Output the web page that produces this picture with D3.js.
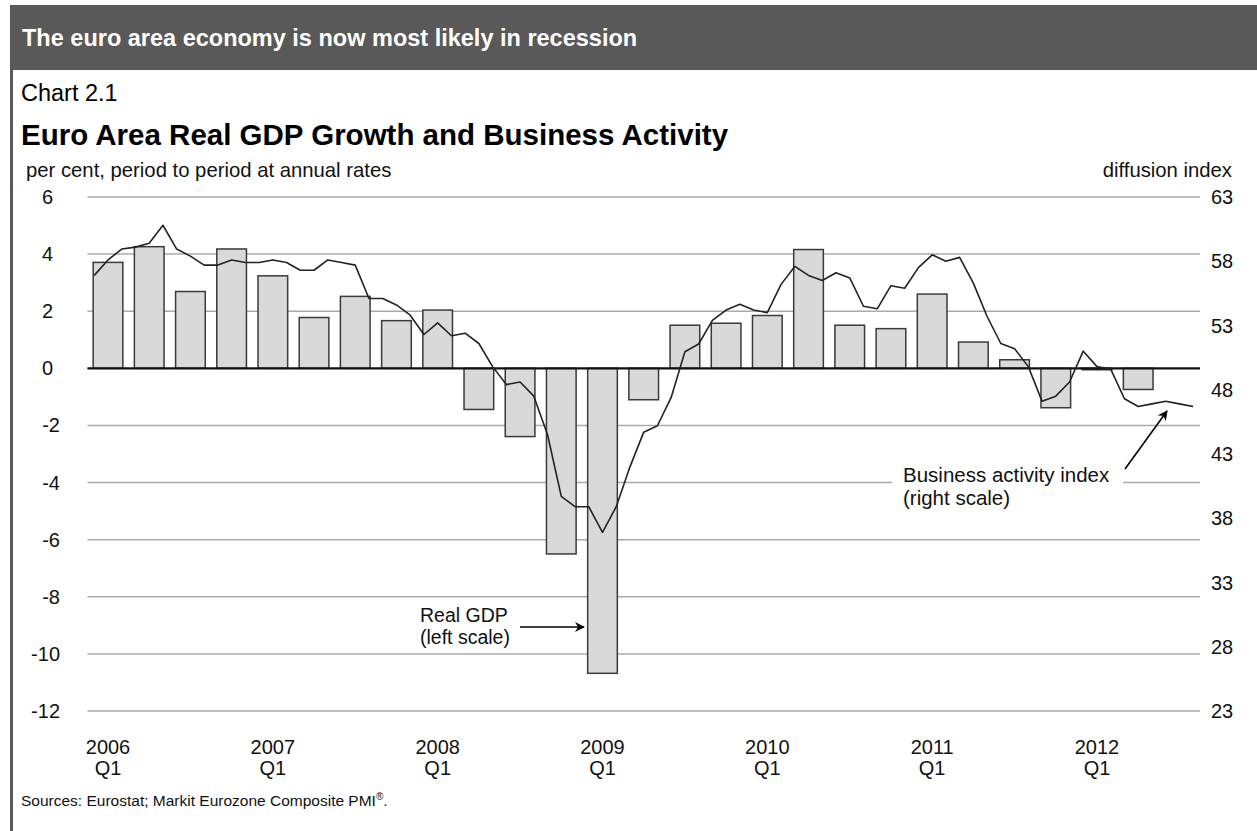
<!DOCTYPE html>
<html><head><meta charset="utf-8">
<script src="https://cdn.jsdelivr.net/npm/d3@7"></script>
<style>
html,body{margin:0;padding:0;background:#fff;}
svg{display:block;font-family:"Liberation Sans",Arial,Helvetica,sans-serif;}
</style></head>
<body>
<svg id="c" width="1257" height="831"></svg>
<script>
// ---- data ----
const quarters = ["2006Q1","2006Q2","2006Q3","2006Q4","2007Q1","2007Q2","2007Q3","2007Q4",
  "2008Q1","2008Q2","2008Q3","2008Q4","2009Q1","2009Q2","2009Q3","2009Q4",
  "2010Q1","2010Q2","2010Q3","2010Q4","2011Q1","2011Q2","2011Q3","2011Q4",
  "2012Q1","2012Q2","2012Q3"];
const gdpGrowth = [3.71,4.26,2.69,4.18,3.24,1.78,2.52,1.67,2.04,-1.44,-2.39,-6.5,-10.68,-1.1,
  1.51,1.58,1.85,4.16,1.51,1.39,2.6,0.92,0.3,-1.38,-0.05,-0.74];
const pmi2006 = [56.9,58.1,58.95,59.1,59.4,60.8,58.95,58.4,57.7,57.7,58.1,57.9];
const pmi2007 = [57.9,58.1,57.9,57.3,57.3,58.1,57.9,57.7,55.1,55.1,54.6,53.8];
const pmi2008 = [52.3,53.2,52.2,52.4,51.6,49.8,48.4,48.6,47.5,44.5,39.7,38.9];
const pmi2009 = [38.9,36.9,38.9,42.0,44.7,45.2,47.4,50.96,51.56,53.4,54.2,54.65];
const pmi2010 = [54.2,54.0,56.2,57.6,56.9,56.5,57.1,56.7,54.5,54.3,56.1,55.9];
const pmi2011 = [57.5,58.5,58.0,58.3,56.3,53.7,51.6,51.2,49.8,47.1,47.5,48.6];
const pmi2012 = [51.0,49.8,49.6,47.3,46.7,46.9,47.1,46.9,46.7];
const leftTicks = [6,4,2,0,-2,-4,-6,-8,-10,-12];
const rightTicks = [63,58,53,48,43,38,33,28,23];
const yearLabels = ["2006","2007","2008","2009","2010","2011","2012"];

const pmi = [].concat(pmi2006,pmi2007,pmi2008,pmi2009,pmi2010,pmi2011,pmi2012);

// ---- layout ----
const svg = d3.select("#c");
const X0 = 87.4, X1 = 1200, YT = 197, YB = 711;

const xq = d3.scaleBand().domain(quarters).range([X0, X1]).paddingInner(0.28).paddingOuter(0.14);
const xm = d3.scaleBand().domain(d3.range(quarters.length*3)).range([X0, X1]).padding(0);
const yL = d3.scaleLinear().domain([-12, 6]).range([YB, YT]);
const yR = d3.scaleLinear().domain([23, 63]).range([YB, YT]);

// header
svg.append("rect").attr("x",10).attr("y",5).attr("width",1247).attr("height",65).attr("fill","#595959");
svg.append("rect").attr("x",10).attr("y",70).attr("width",3).attr("height",761).attr("fill","#595959");
svg.append("text").attr("x",22).attr("y",46).attr("fill","#fff").attr("font-weight","bold")
  .attr("font-size",23.5).text("The euro area economy is now most likely in recession");
svg.append("text").attr("x",21).attr("y",101).attr("font-size",23.5).attr("fill","#000").text("Chart 2.1");
svg.append("text").attr("x",21).attr("y",145).attr("font-size",29.5).attr("font-weight","bold").attr("fill","#000")
  .text("Euro Area Real GDP Growth and Business Activity");
svg.append("text").attr("x",26).attr("y",177).attr("font-size",20.3).attr("fill","#111")
  .text("per cent, period to period at annual rates");
svg.append("text").attr("x",1232).attr("y",177).attr("font-size",20.3).attr("fill","#111").attr("text-anchor","end")
  .text("diffusion index");

// gridlines
svg.append("g").selectAll("line").data(leftTicks.filter(d=>d!==0)).join("line")
  .attr("x1",X0).attr("x2",X1).attr("y1",d=>yL(d)).attr("y2",d=>yL(d))
  .attr("stroke","#aaaaaa").attr("stroke-width",1.5);

// left tick labels
svg.append("g").selectAll("text").data(leftTicks).join("text")
  .attr("x",d=>d<0?60:53).attr("y",d=>yL(d)).attr("dy","0.35em").attr("text-anchor","end")
  .attr("font-size",20).attr("fill","#111").text(d=>d);
// right tick labels
svg.append("g").selectAll("text").data(rightTicks).join("text")
  .attr("x",1211).attr("y",d=>yR(d)).attr("dy","0.35em").attr("text-anchor","start")
  .attr("font-size",20).attr("fill","#111").text(d=>d);

// bars
svg.append("g").selectAll("rect").data(gdpGrowth).join("rect")
  .attr("x",(d,i)=>xq(quarters[i])).attr("width",xq.bandwidth())
  .attr("y",d=>yL(Math.max(0,d))).attr("height",d=>Math.max(1,Math.abs(yL(d)-yL(0))))
  .attr("fill","#d9d9d9").attr("stroke","#3a3a3a").attr("stroke-width",1.5);

// zero line
svg.append("line").attr("x1",X0).attr("x2",X1).attr("y1",yL(0)).attr("y2",yL(0))
  .attr("stroke","#111").attr("stroke-width",2.2);

// PMI line
svg.append("path").datum(pmi)
  .attr("d",d3.line().x((d,i)=>xm(i)+xm.bandwidth()/2).y(d=>yR(d)))
  .attr("fill","none").attr("stroke","#222").attr("stroke-width",1.6).attr("stroke-linejoin","round");

// x labels
const xl = svg.append("g").selectAll("g").data(yearLabels).join("g")
  .attr("transform",d=>`translate(${xq(d+"Q1")+xq.bandwidth()/2},0)`);
xl.append("text").attr("y",754).attr("text-anchor","middle").attr("font-size",20).attr("fill","#111").text(d=>d);
xl.append("text").attr("y",775).attr("text-anchor","middle").attr("font-size",20).attr("fill","#111").text("Q1");

// arrow marker
const defs = svg.append("defs");
defs.append("marker").attr("id","ah").attr("viewBox","0 0 10 10").attr("refX",9).attr("refY",5)
  .attr("markerWidth",10).attr("markerHeight",10).attr("markerUnits","userSpaceOnUse").attr("orient","auto")
  .append("path").attr("d","M0,0 L10,5 L0,10 L3,5 Z").attr("fill","#000");

// annotations
svg.append("text").attr("x",420).attr("y",622).attr("font-size",19.5).attr("fill","#111").text("Real GDP");
svg.append("text").attr("x",420).attr("y",644).attr("font-size",19.5).attr("fill","#111").text("(left scale)");
svg.append("line").attr("x1",520).attr("y1",627).attr("x2",584).attr("y2",627)
  .attr("stroke","#000").attr("stroke-width",1.6).attr("marker-end","url(#ah)");

svg.append("rect").attr("x",892).attr("y",465).attr("width",231).attr("height",44).attr("fill","#fff");
svg.append("text").attr("x",903).attr("y",482).attr("font-size",20.5).attr("fill","#111").text("Business activity index");
svg.append("text").attr("x",903).attr("y",505).attr("font-size",20.5).attr("fill","#111").text("(right scale)");
svg.append("line").attr("x1",1125).attr("y1",469).attr("x2",1167).attr("y2",411)
  .attr("stroke","#000").attr("stroke-width",1.6).attr("marker-end","url(#ah)");

// footer
const ft = svg.append("text").attr("x",21).attr("y",806).attr("font-size",15.5).attr("fill","#111");
ft.append("tspan").text("Sources: Eurostat; Markit Eurozone Composite PMI");
ft.append("tspan").attr("font-size",10).attr("dy",-6).text("®");
ft.append("tspan").attr("dy",6).text(".");
</script>
</body></html>
